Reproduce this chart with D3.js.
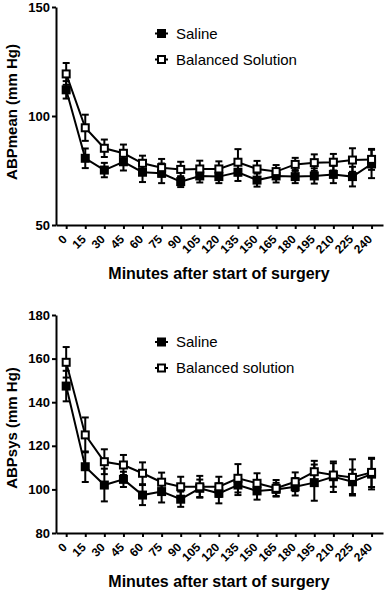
<!DOCTYPE html>
<html>
<head>
<meta charset="utf-8">
<script src="https://cdn.jsdelivr.net/npm/d3@7"></script>
<style>
  body { margin: 0; background: #fff; }
  svg { display: block; font-family: Arial, 'Liberation Sans', sans-serif; }
</style>
</head>
<body>
<div id="chart"></div>
<script>
(function () {

  // Time points (minutes)
  const minutes = [0, 15, 30, 45, 60, 75, 90, 105, 120, 135, 150, 165, 180, 195, 210, 225, 240]

  // ABPmean
  const mean_saline = [112, 80.6, 75.2, 79, 74.2, 73.7, 69.9, 72.5, 72.2, 74.2, 70.6, 72.5, 72.2, 72.5, 73.2, 72.2, 78]
  const mean_saline_err = [4, 4.5, 3.3, 4, 4.5, 4.5, 2.5, 3, 3, 4, 3, 3, 3, 3.5, 4, 4.5, 6.5]
  const mean_balanced = [119.3, 94.6, 85.2, 82.9, 78.3, 76.3, 75.5, 75.7, 75.7, 78.8, 75.7, 74.5, 77.8, 78.6, 78.8, 79.8, 80.1]
  const mean_balanced_err = [5, 6, 4, 4, 3.5, 4, 3.5, 3.8, 3.5, 6, 3.7, 3, 3, 3.8, 3.8, 5.4, 4.8]
  const mean_ticks = [50, 100, 150]

  // ABPsys
  const sys_saline = [147.4, 110.4, 102, 104.6, 97.4, 99, 95.5, 100.5, 98.2, 102, 99.3, 100, 101.2, 103.1, 105.8, 103.5, 107]
  const sys_saline_err = [7, 7, 7.5, 3.5, 4.6, 5, 3.5, 4, 4.6, 4.6, 4, 3, 4, 8.3, 7, 5.6, 7]
  const sys_balanced = [158.3, 125, 112.7, 111.2, 107.4, 103.3, 101.2, 101.2, 101.2, 105.1, 102.8, 100.5, 103.5, 108.1, 106.6, 105.5, 107.8]
  const sys_balanced_err = [7, 8, 5.7, 4.6, 5, 4.4, 4.6, 5, 4.6, 6.5, 4.6, 3.8, 4.3, 5, 5.4, 8.3, 6.7]
  const sys_ticks = [80, 100, 120, 140, 160, 180]

  const width = 387
  const height = 591

  const svg = d3.select('#chart').append('svg')
    .attr('width', width)
    .attr('height', height)

  const x = d3.scaleLinear().domain([-8, 249]).range([56, 383])

  // Joins a series into a list of points
  const to_points = (values, errs) => minutes.map((m, i) => ({ m, v: values[i], e: errs[i] }))

  const draw_series = (g, y, pts, filled) => {
    const line = d3.line().x(d => x(d.m)).y(d => y(d.v))

    g.append('path')
      .datum(pts)
      .attr('d', line)
      .attr('fill', 'none')
      .attr('stroke', '#000')
      .attr('stroke-width', 2)

    const bars = g.append('g').selectAll('g')
      .data(pts)
      .join('g')
      .attr('stroke', '#000')
      .attr('stroke-width', 2)

    bars.append('line')
      .attr('x1', d => x(d.m)).attr('x2', d => x(d.m))
      .attr('y1', d => y(d.v - d.e)).attr('y2', d => y(d.v + d.e))
    bars.append('line')
      .attr('x1', d => x(d.m) - 3.5).attr('x2', d => x(d.m) + 3.5)
      .attr('y1', d => y(d.v + d.e)).attr('y2', d => y(d.v + d.e))
    bars.append('line')
      .attr('x1', d => x(d.m) - 3.5).attr('x2', d => x(d.m) + 3.5)
      .attr('y1', d => y(d.v - d.e)).attr('y2', d => y(d.v - d.e))

    g.append('g').selectAll('rect')
      .data(pts)
      .join('rect')
      .attr('x', d => x(d.m) - 3.5)
      .attr('y', d => y(d.v) - 3.5)
      .attr('width', 7)
      .attr('height', 7)
      .attr('fill', filled ? '#000' : '#fff')
      .attr('stroke', '#000')
      .attr('stroke-width', 2)
  }

  const draw_legend = (g, top, labels) => {
    labels.forEach((label, i) => {
      const cy = top + i * 26
      g.append('line')
        .attr('x1', 155).attr('x2', 168)
        .attr('y1', cy).attr('y2', cy)
        .attr('stroke', '#000').attr('stroke-width', 2)
      g.append('rect')
        .attr('x', 158).attr('y', cy - 3.5)
        .attr('width', 7).attr('height', 7)
        .attr('fill', i == 0 ? '#000' : '#fff')
        .attr('stroke', '#000').attr('stroke-width', 2)
      g.append('text')
        .attr('x', 176).attr('y', cy)
        .attr('dy', '0.35em')
        .attr('font-size', 15)
        .text(label)
    })
  }

  // One panel: axes, labels, two series, legend
  const create_panel = (opts) => {
    const g = svg.append('g')
    const y = d3.scaleLinear().domain(opts.domain).range(opts.range)
    const base = opts.range[0]

    const xAxis = g.append('g')
      .attr('transform', `translate(0,${base})`)
      .call(d3.axisBottom(x).tickValues(minutes).tickSize(4).tickSizeOuter(0).tickFormat(''))
    xAxis.select('.domain').attr('stroke-width', 2)
    xAxis.selectAll('.tick line').attr('stroke-width', 2)

    // Slanted tick labels: a positioned group, the text only rotated
    g.append('g').selectAll('g')
      .data(minutes)
      .join('g')
      .attr('transform', d => `translate(${x(d) - 1.5},${base + 12})`)
      .append('text')
      .attr('transform', 'rotate(-45)')
      .attr('dy', '0.35em')
      .attr('text-anchor', 'end')
      .attr('font-size', 12)
      .attr('font-weight', 'bold')
      .attr('fill', '#000')
      .text(d => d)

    const yAxis = g.append('g')
      .attr('transform', 'translate(56,0)')
      .call(d3.axisLeft(y).tickValues(opts.ticks).tickSize(4).tickPadding(2).tickSizeOuter(0))
    yAxis.select('.domain').attr('stroke-width', 2)
    yAxis.selectAll('.tick line').attr('stroke-width', 2)
    yAxis.selectAll('.tick text')
      .attr('font-size', 13)
      .attr('font-weight', 'bold')
      .attr('fill', '#000')
    g.selectAll('.domain, .tick line').attr('stroke', '#000')
    g.selectAll('g').attr('font-family', null)

    g.append('text')
      .attr('transform', 'rotate(-90)')
      .attr('x', -opts.label_y)
      .attr('y', 16.5)
      .attr('text-anchor', 'middle')
      .attr('font-size', 15)
      .attr('font-weight', 'bold')
      .text(opts.ylabel)

    g.append('text')
      .attr('x', 219)
      .attr('y', base + 54)
      .attr('text-anchor', 'middle')
      .attr('font-size', 16)
      .attr('font-weight', 'bold')
      .text('Minutes after start of surgery')

    draw_series(g, y, to_points(opts.saline, opts.saline_err), true)
    draw_series(g, y, to_points(opts.balanced, opts.balanced_err), false)
    draw_legend(g, opts.legend_y, opts.legend)
  }

  create_panel({
    domain: [50, 150], range: [225, 7], ticks: mean_ticks,
    saline: mean_saline, saline_err: mean_saline_err,
    balanced: mean_balanced, balanced_err: mean_balanced_err,
    ylabel: 'ABPmean (mm Hg)', label_y: 112,
    legend: ['Saline', 'Balanced Solution'], legend_y: 33.5
  })

  create_panel({
    domain: [80, 180], range: [533, 315], ticks: sys_ticks,
    saline: sys_saline, saline_err: sys_saline_err,
    balanced: sys_balanced, balanced_err: sys_balanced_err,
    ylabel: 'ABPsys (mm Hg)', label_y: 428,
    legend: ['Saline', 'Balanced solution'], legend_y: 342
  })

})()
</script>
</body>
</html>
